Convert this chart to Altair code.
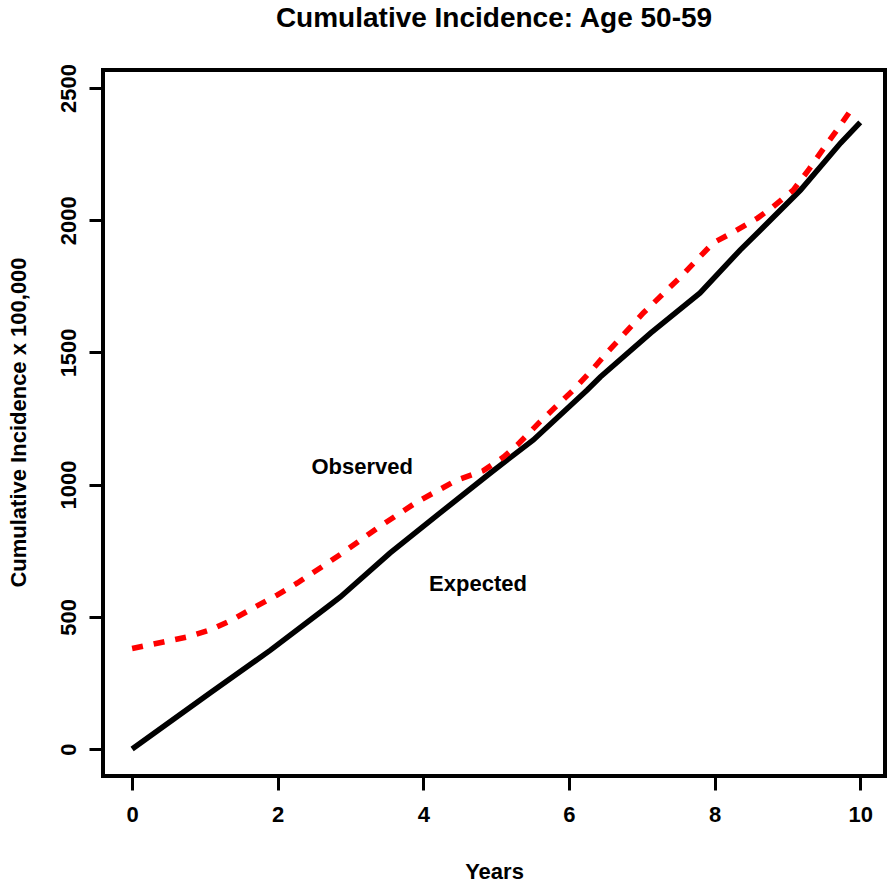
import altair as alt
import pandas as pd

title_text = "Cumulative Incidence: Age 50-59"
x_title = "Years"
y_title = "Cumulative Incidence x 100,000"

obs_years = [0.0, 0.43, 0.76, 1.07, 1.37, 1.66, 1.99, 2.27, 2.54, 2.86, 3.37, 3.91, 4.46,
             4.82, 5.10, 5.29, 5.60, 6.06, 6.29, 6.52, 7.02, 7.53, 7.98, 8.26, 8.59, 8.80,
             9.08, 9.29, 9.48, 9.68, 9.93]
obs_values = [380, 405, 424, 450, 488, 533, 582, 628, 677, 736, 836, 934, 1017,
              1052, 1104, 1150, 1237, 1358, 1426, 1498, 1649, 1785, 1914, 1955, 2008, 2050,
              2114, 2190, 2265, 2341, 2439]

exp_years = [0.0, 1.07, 1.90, 2.68, 2.86, 3.54, 4.23, 4.92, 5.51, 6.25, 6.43, 7.12, 7.80,
             8.35, 8.63, 9.18, 9.73, 10.0]
exp_values = [0, 212, 374, 537, 575, 741, 893, 1044, 1169, 1358, 1407, 1573, 1725,
              1887, 1963, 2114, 2292, 2370]

label_text = ["Observed", "Expected"]
label_x = [3.16, 4.75]
label_y = [1067, 624]

x_ticks = [0, 2, 4, 6, 8, 10]
y_ticks = [0, 500, 1000, 1500, 2000, 2500]

obs_df = pd.DataFrame({"year": obs_years, "value": obs_values})
exp_df = pd.DataFrame({"year": exp_years, "value": exp_values})
lab_df = pd.DataFrame({"label": label_text, "year": label_x, "value": label_y})

FONT = "Liberation Sans"

xscale = alt.Scale(domain=[-0.4, 10.34], nice=False, zero=False)
yscale = alt.Scale(domain=[-102, 2568], nice=False, zero=False)

xenc = alt.X("year:Q", scale=xscale,
             axis=alt.Axis(values=x_ticks, title=x_title, format="d",
                           labelPadding=14, titlePadding=36))
yenc = alt.Y("value:Q", scale=yscale,
             axis=alt.Axis(values=y_ticks, title=y_title, format="d",
                           labelAngle=270, labelAlign="center", labelBaseline="bottom",
                           labelPadding=9,
                           titleX=-85, titleY=352, titleAlign="center",
                           titleBaseline="middle", titleAngle=270))

expected = alt.Chart(exp_df).mark_line(color="black", strokeWidth=5.5).encode(x=xenc, y=yenc)
observed = alt.Chart(obs_df).mark_line(color="#ff0000", strokeWidth=5.5,
                                       strokeDash=[11, 11]).encode(x="year:Q", y="value:Q")
labels = alt.Chart(lab_df).mark_text(font=FONT, fontSize=22, fontWeight="bold", color="black",
                                     align="center", baseline="middle").encode(
    x="year:Q", y="value:Q", text="label:N")

chart = alt.layer(expected, observed, labels).properties(
    width=782, height=706,
    background="white",
    title=alt.TitleParams(title_text, font=FONT, fontSize=28, fontWeight="bold",
                          color="black", anchor="middle", offset=31),
    autosize=alt.AutoSizeParams(type="none"),
    padding={"left": 103, "top": 70, "right": 3, "bottom": 113},
).configure_view(
    stroke="black", strokeWidth=4
).configure_axis(
    grid=False, domain=False, tickColor="black", tickWidth=3, tickSize=14,
    labelFont=FONT, labelFontSize=22, labelFontWeight="bold", labelColor="black",
    titleFont=FONT, titleFontSize=22, titleFontWeight="bold", titleColor="black",
)

chart.save("out.html", embed_options={"renderer": "svg", "actions": False})
